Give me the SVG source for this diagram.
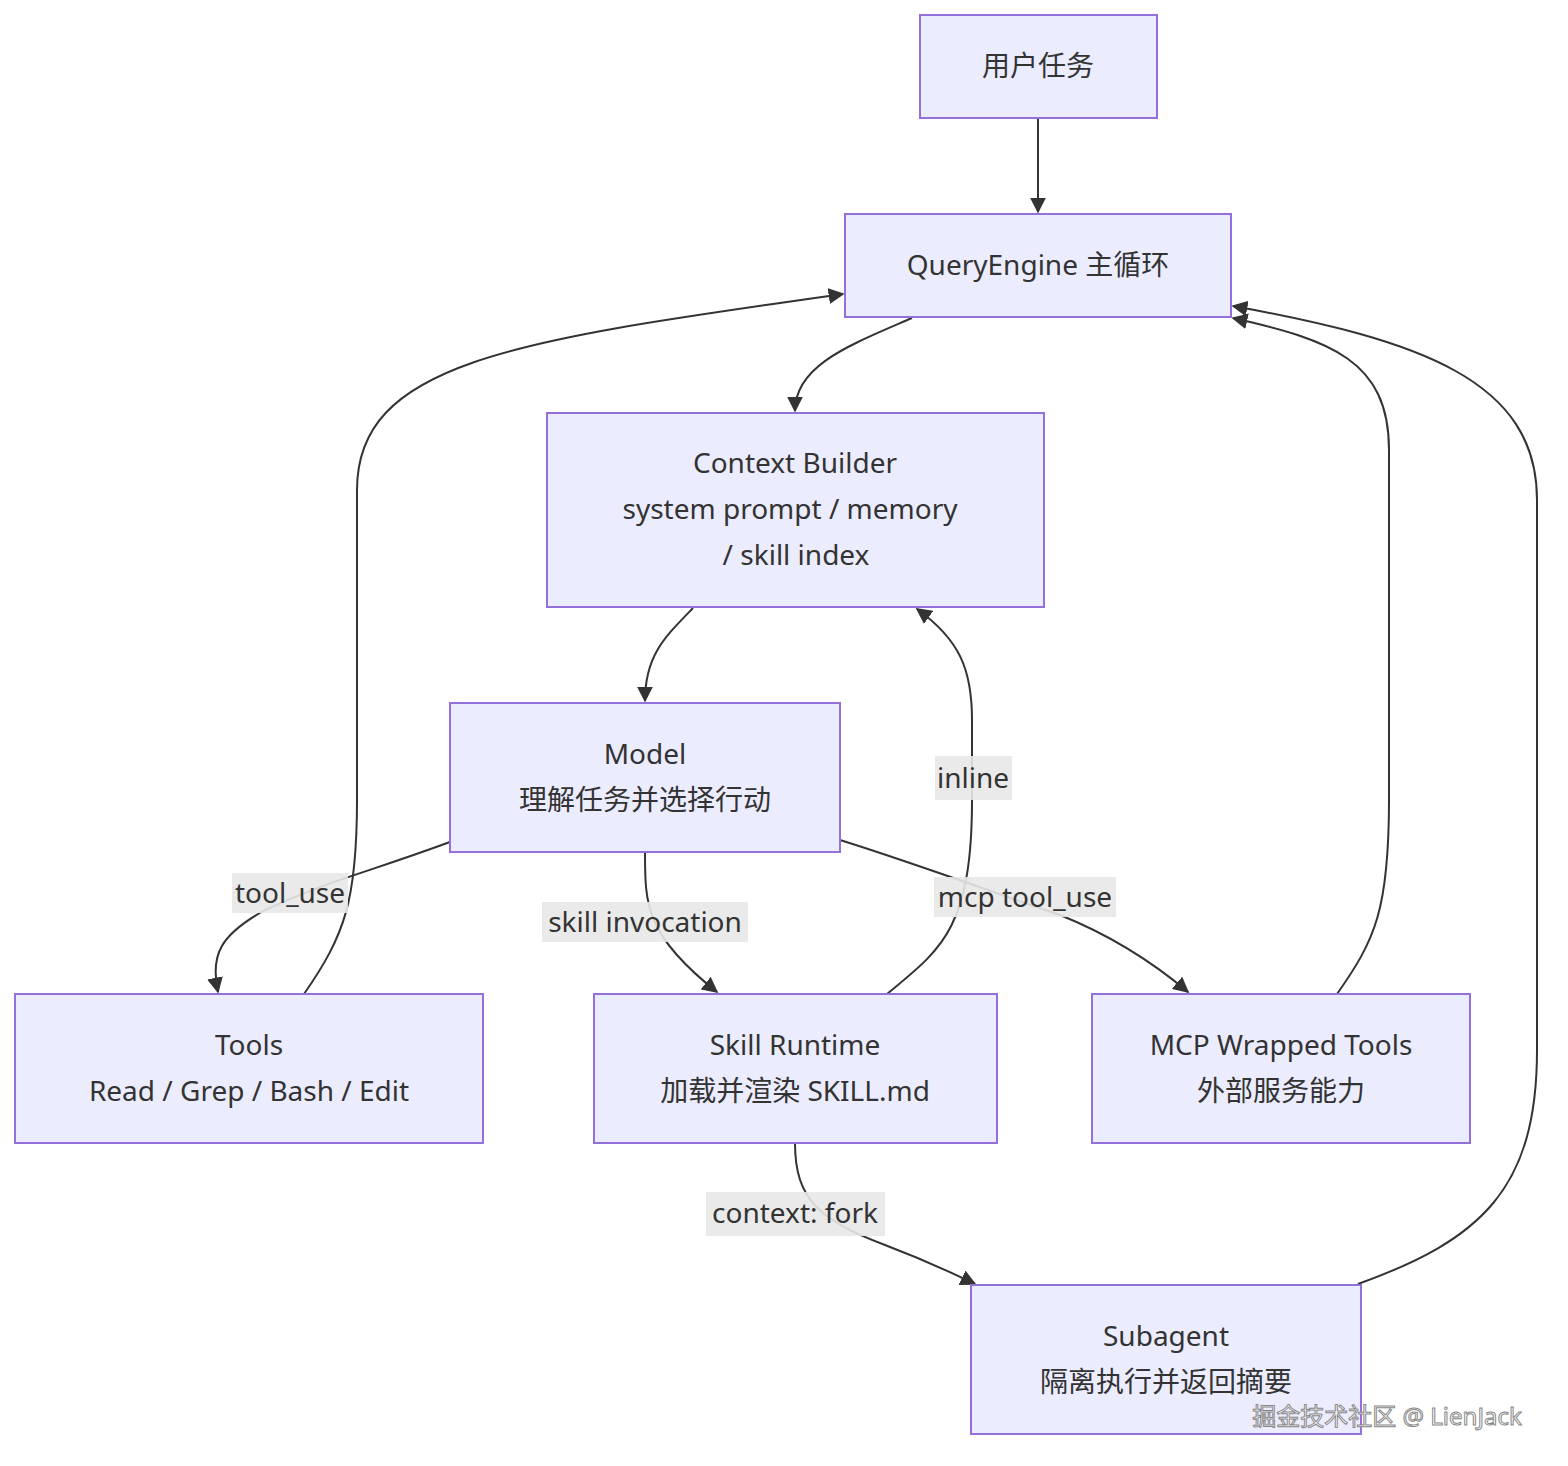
<svg xmlns="http://www.w3.org/2000/svg" width="1568" height="1466" viewBox="0 0 1568 1466">
<style>
.n rect{fill:#ECECFF;stroke:#9370DB;stroke-width:2}
text{font-family:"Noto Sans","Noto Sans CJK SC",sans-serif;font-size:28px;fill:#333;text-anchor:middle}
.e path{fill:none;stroke:#333;stroke-width:2;marker-end:url(#a)}
.lb rect{fill:#E8E8E8;opacity:0.9}
</style>
<defs><marker id="a" viewBox="0 0 10 10" refX="9" refY="5" markerWidth="8" markerHeight="8" orient="auto"><path d="M0,0L10,5L0,10z" fill="#333"/></marker></defs>
<rect width="1568" height="1466" fill="#fff"/>
<g class="e">
<path d="M1038,118V212"/>
<path d="M912,318C850,345 795,365 795,411"/>
<path d="M693,608C665,637 645,655 645,701"/>
<path d="M450,842C360,875 330,880 265,910C220,935 210,955 218,992"/>
<path d="M645,852C645,905 645,935 717,992"/>
<path d="M840,840C920,865 1000,895 1060,915C1110,935 1150,960 1188,992"/>
<path d="M304,994C345,935 357,900 357,800V490C357,360 520,340 843,294"/>
<path d="M887,994C940,950 972,930 972,800V720C972,670 960,640 917,609"/>
<path d="M1337,994C1375,940 1389,910 1389,800V450C1389,360 1330,340 1233,318"/>
<path d="M795,1143C795,1200 820,1220 885,1245C930,1262 950,1272 975,1284"/>
<path d="M1358,1284C1480,1240 1537,1190 1537,1050V500C1537,380 1420,340 1233,306"/>
</g>
<g class="lb">
<rect x="232" y="873" width="116" height="40"/><text x="290" y="903">tool_use</text>
<rect x="542" y="902" width="206" height="40"/><text x="645" y="932">skill invocation</text>
<rect x="934" y="877" width="182" height="40"/><text x="1025" y="907">mcp tool_use</text>
<rect x="935" y="756" width="77" height="44"/><text x="973" y="788">inline</text>
<rect x="706" y="1192" width="179" height="44"/><text x="795" y="1223">context: fork</text>
</g>
<g class="n" id="user"><rect x="920" y="15" width="237" height="103"/><text x="1038" y="76">用户任务</text></g>
<g class="n" id="qe"><rect x="845" y="214" width="386" height="103"/><text x="1038" y="275">QueryEngine 主循环</text></g>
<g class="n" id="cb"><rect x="547" y="413" width="497" height="194"/><text x="795" y="473">Context Builder</text><text x="790" y="519">system prompt / memory</text><text x="796" y="565">/ skill index</text></g>
<g class="n" id="model"><rect x="450" y="703" width="390" height="149"/><text x="645" y="764">Model</text><text x="645" y="810">理解任务并选择行动</text></g>
<g class="n" id="tools"><rect x="15" y="994" width="468" height="149"/><text x="249" y="1055">Tools</text><text x="249" y="1101">Read / Grep / Bash / Edit</text></g>
<g class="n" id="skill"><rect x="594" y="994" width="403" height="149"/><text x="795" y="1055">Skill Runtime</text><text x="795" y="1101">加载并渲染 SKILL.md</text></g>
<g class="n" id="mcp"><rect x="1092" y="994" width="378" height="149"/><text x="1281" y="1055">MCP Wrapped Tools</text><text x="1281" y="1101">外部服务能力</text></g>
<g class="n" id="sub"><rect x="971" y="1285" width="390" height="149"/><text x="1166" y="1346">Subagent</text><text x="1166" y="1392">隔离执行并返回摘要</text></g>
<text x="1387" y="1425" style="font-size:24px;fill:#fff;stroke:#888;stroke-width:1">掘金技术社区 @ LienJack</text>
</svg>
